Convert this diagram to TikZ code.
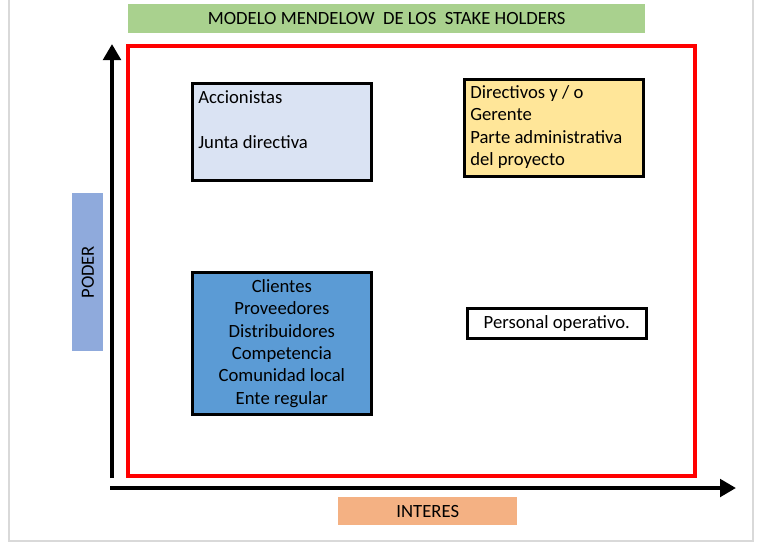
\documentclass[tikz,border=0pt]{standalone}
\usepackage{fontspec}
\setmainfont{Carlito}
\usetikzlibrary{arrows.meta}
\definecolor{titlegreen}{HTML}{A9D18E}
\definecolor{poderblue}{HTML}{8FAADC}
\definecolor{interesorange}{HTML}{F4B183}
\definecolor{paleblue}{HTML}{DAE3F3}
\definecolor{paleyellow}{HTML}{FFE699}
\definecolor{midblue}{HTML}{5B9BD5}
\definecolor{framegray}{HTML}{D9D9D9}
\tikzset{
  px/.style={x=0.75pt,y=-0.75pt},
  labelbox/.style={draw=none,inner sep=0pt,anchor=north west},
  labeltext/.style={inner sep=0pt,font=\fontsize{14}{16.8}\selectfont},
  stakebox/.style={draw=black,line width=2pt,inner sep=0pt,anchor=north west},
  staketext/.style={inner sep=0pt,font=\fontsize{14}{16.8}\selectfont},
  axis/.style={line width=3pt,-{Triangle[length=12pt,width=13pt]}},
}
\begin{document}
\begin{tikzpicture}[px]
\useasboundingbox (0,0) rectangle (759,543);
% outer frame
\draw[framegray,line width=1.2pt] (9,-2) -- (9,541) -- (753,541) -- (753,-2);
% title
\node[labelbox,fill=titlegreen,minimum width=517*0.75pt,minimum height=29*0.75pt] (title) at (128,4) {};
\node[labeltext] (titletext) at (title.center) {MODELO MENDELOW\ \ DE LOS\ \ STAKE HOLDERS};
% axes
\coordinate (o1) at (112,478);
\coordinate (ytip) at (112,44);
\coordinate (o2) at (110,488);
\coordinate (xtip) at (736,488);
\draw[axis] (o1) -- (ytip);
\draw[axis] (o2) -- (xtip);
% quadrant frame
\draw[red,line width=3.2pt] (128,46) rectangle (695,476);
% axis labels
\node[labelbox,fill=poderblue,minimum width=31*0.75pt,minimum height=158*0.75pt] (poder) at (72,193) {};
\node[labeltext,rotate=90] (podertext) at (poder.center) {PODER};
\node[labelbox,fill=interesorange,minimum width=179*0.75pt,minimum height=28*0.75pt] (interes) at (338,497) {};
\node[labeltext] (interestext) at (interes.center) {INTERES};
% stakeholder groups
\node[stakebox,fill=paleblue,minimum width=179*0.75pt,minimum height=97*0.75pt] (acc) at (191,82) {};
\node[staketext,anchor=north west] (acc1) at (198,90) {Accionistas};
\node[staketext,anchor=north west] (acc2) at (198,135) {Junta directiva};
\node[stakebox,fill=paleyellow,minimum width=179*0.75pt,minimum height=97*0.75pt] (dir) at (463,78) {};
\node[staketext,anchor=north west,align=left] (dirtext) at (470,85)
  {Directivos y / o\\Gerente\\Parte administrativa\\del proyecto};
\node[stakebox,fill=midblue,minimum width=179*0.75pt,minimum height=142*0.75pt] (ext) at (191,271) {};
\node[staketext,align=center] (exttext) at (ext.center)
  {Clientes\\Proveedores\\Distribuidores\\Competencia\\Comunidad local\\Ente regular};
\node[stakebox,fill=white,minimum width=179*0.75pt,minimum height=30*0.75pt] (ope) at (466,307) {};
\node[staketext] (opetext) at (ope.center) {Personal operativo.};
\end{tikzpicture}
\end{document}
